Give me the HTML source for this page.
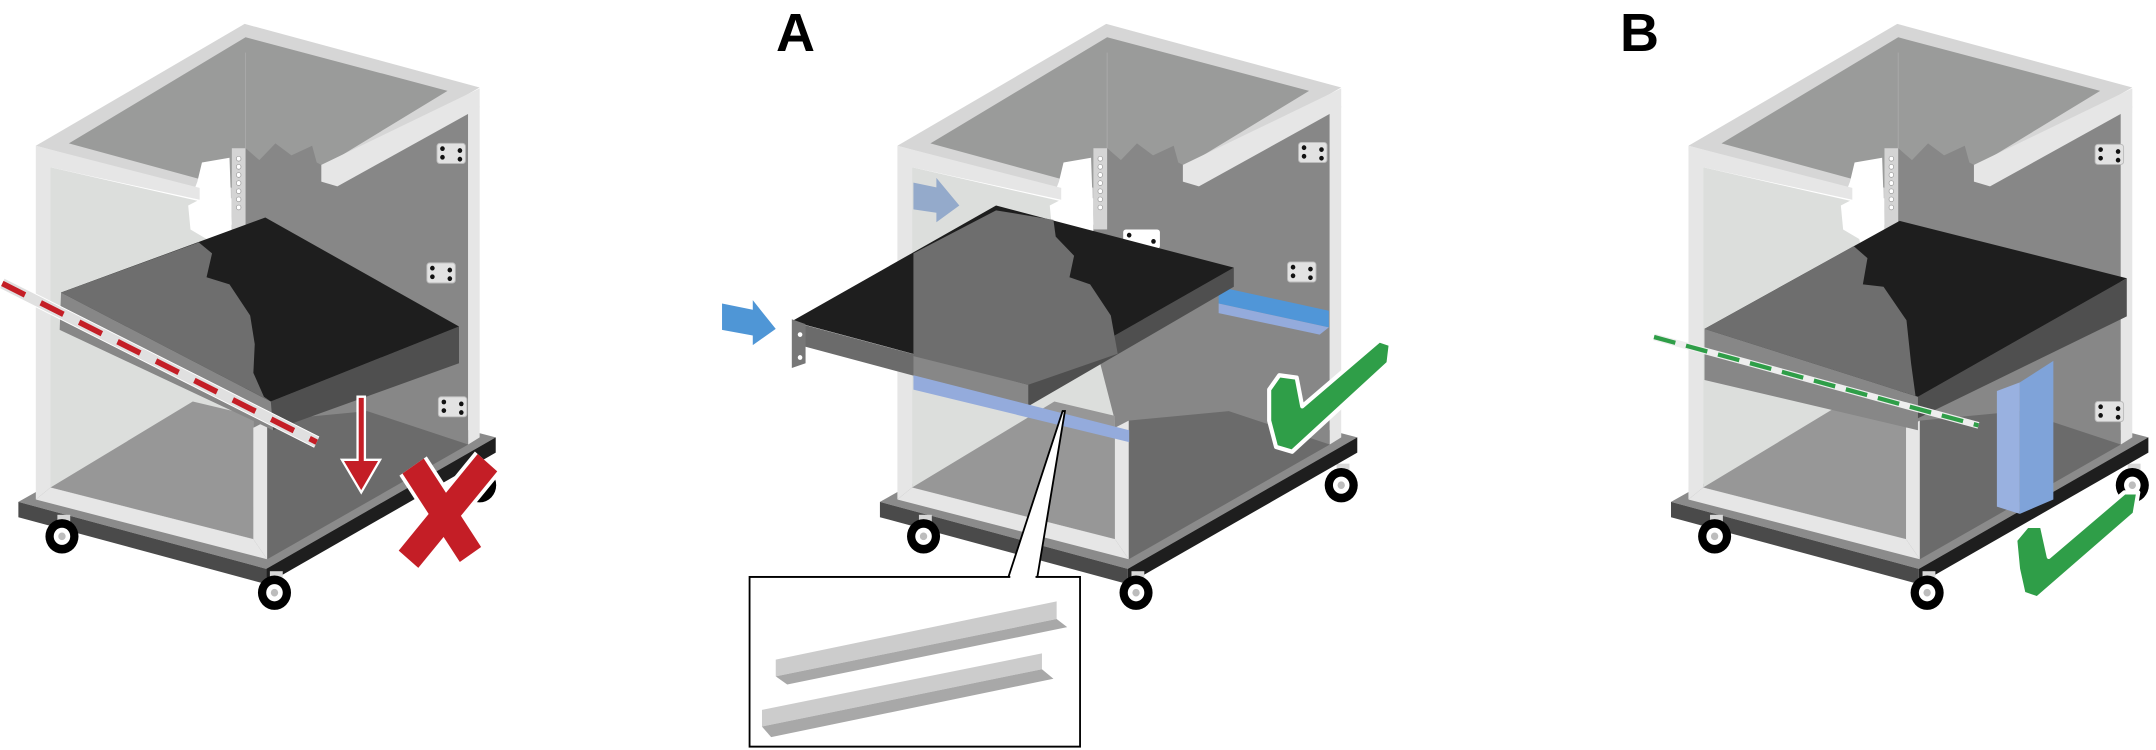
<!DOCTYPE html>
<html><head><meta charset="utf-8"><style>
html,body{margin:0;padding:0;background:#fff;}
svg{display:block;}
</style></head><body>
<svg width="2156" height="750" viewBox="0 0 2156 750" xmlns="http://www.w3.org/2000/svg">
<defs>
<g id="plate">
<rect x="0" y="0" width="62" height="42" rx="6" fill="#e2e2e2" stroke="#bbb" stroke-width="2"/>
<circle cx="12" cy="11" r="5" fill="#111"/><circle cx="50" cy="15" r="5" fill="#111"/>
<circle cx="12" cy="29" r="5" fill="#111"/><circle cx="50" cy="33" r="5" fill="#111"/>
</g>
<g id="wheel">
<rect x="-10" y="-45" width="28" height="30" fill="#d8d8d8"/>
<circle cx="0" cy="0" r="36" fill="#000"/>
<circle cx="0" cy="0" r="18" fill="#fff"/>
<circle cx="0" cy="0" r="8" fill="#bdbdbd"/>
</g>
<g id="cab">
<use href="#wheel" x="1045" y="1015"/>
<polygon points="40,1050 540,780 1080,915 580,1190" fill="#8b8b8b"/>
<polygon points="40,1050 580,1190 580,1222 40,1082" fill="#4a4a4a"/>
<polygon points="580,1190 1080,915 1080,947 580,1222" fill="#1e1e1e"/>
<use href="#wheel" x="135" y="1122"/>
<use href="#wheel" x="598" y="1240"/>
<polygon points="78,305 533,50 1045,183 582,435" fill="#d6d6d6"/>
<polygon points="150,300 535,78 975,190 590,415" fill="#9a9b9a"/>
<line x1="535" y1="110" x2="535" y2="320" stroke="#aaa" stroke-width="2"/>
<polygon points="505,310 535,310 565,335 600,300 635,325 680,305 690,340 700,345 1020,235 1020,930 582,1170 505,900" fill="#878787"/>
<polygon points="582,880 800,860 1020,930 582,1170" fill="#6b6b6b"/>
<polygon points="700,345 1045,185 1045,225 735,390 700,380" fill="#e6e6e6"/>
<polygon points="1020,235 1045,222 1045,915 1020,930" fill="#e6e6e6"/>
<rect x="505" y="310" width="30" height="170" fill="#d4d4d4"/>
<g fill="#fff" stroke="#999" stroke-width="1.5">
<circle cx="520" cy="332" r="5"/><circle cx="520" cy="349" r="5"/><circle cx="520" cy="366" r="5"/><circle cx="520" cy="383" r="5"/><circle cx="520" cy="400" r="5"/><circle cx="520" cy="417" r="5"/><circle cx="520" cy="434" r="5"/>
</g>
<polygon points="415,480 410,430 430,380 440,340 500,330 505,470 450,500" fill="#fff"/>
<polygon points="110,350 430,420 410,430 415,480 450,500 552,880 552,1128 110,1020" fill="#dcdedc"/>
<polygon points="110,1020 420,840 552,870 552,1128" fill="#979797"/>
<polygon points="78,305 110,315 110,1020 78,1045" fill="#e6e6e6"/>
<polygon points="78,1045 110,1020 552,1128 582,1170" fill="#e6e6e6"/>
<polygon points="78,305 435,393 435,418 110,350" fill="#e6e6e6"/>
<polygon points="552,895 582,880 582,1170 552,1128" fill="#e6e6e6"/>
</g>
</defs>

<g transform="scale(0.459,0.478)">
<use href="#cab"/>
<use href="#plate" x="952" y="300"/>
<use href="#plate" x="930" y="550"/>
<use href="#plate" x="955" y="830"/>
<polygon points="133,612 590,840 595,900 130,690" fill="#878787"/>
<polygon points="590,840 1000,683 1000,760 595,900" fill="#4f4f4f"/>
<polygon points="133,612 578,455 1000,683 590,840" fill="#1e1e1e"/>
<polygon points="133,612 433,507 462,530 450,580 500,595 545,660 555,720 552,780 575,830 590,840" fill="#6e6e6e"/>
<line x1="5" y1="593" x2="690" y2="925" stroke="#fff" stroke-width="26"/>
<line x1="5" y1="593" x2="690" y2="925" stroke="#e0e0e0" stroke-width="22"/>
<line x1="5" y1="593" x2="690" y2="925" stroke="#c41e26" stroke-width="12" stroke-dasharray="55,38"/>
<polygon points="779,830 795,830 795,962 828,962 787,1030 745,962 779,962" fill="#c41e26" stroke="#fff" stroke-width="5"/>
<g stroke-linecap="butt">
<line x1="900" y1="975" x2="1025" y2="1160" stroke="#fff" stroke-width="72"/>
<line x1="1062" y1="968" x2="890" y2="1170" stroke="#fff" stroke-width="72"/>
<line x1="900" y1="975" x2="1025" y2="1160" stroke="#c41e26" stroke-width="56"/>
<line x1="1062" y1="968" x2="890" y2="1170" stroke="#c41e26" stroke-width="56"/>
</g>
</g>

<text x="776" y="51" font-family="Liberation Sans, sans-serif" font-size="54" font-weight="bold" fill="#000">A</text>
<g transform="translate(700,0) scale(0.459,0.478)">
<g transform="translate(352,0)"><use href="#cab"/></g>
<use href="#plate" x="1304" y="298"/>
<use href="#plate" x="1280" y="548"/>
<rect x="922" y="480" width="80" height="40" rx="6" fill="#fff"/>
<circle cx="935" cy="492" r="5" fill="#111"/><circle cx="988" cy="505" r="5" fill="#111"/>
<polygon points="1130,600 1370,650 1370,685 1130,635" fill="#5096d8"/>
<polygon points="1130,635 1370,685 1350,700 1130,655" fill="#94abdc"/>
<polygon points="228,680 715,805 715,850 228,725" fill="#6b6b6b"/>
<polygon points="465,740 715,805 715,850 465,790" fill="#878787"/>
<polygon points="715,805 1163,560 1163,600 715,850" fill="#4f4f4f"/>
<polygon points="200,672 645,430 1163,560 715,805" fill="#1e1e1e"/>
<polygon points="465,530 645,440 770,460 775,495 815,535 805,580 850,595 895,660 910,740 715,805 465,745" fill="#6e6e6e"/>
<polygon points="200,668 230,678 230,760 200,770" fill="#777"/>
<circle cx="218" cy="700" r="5" fill="#fff"/><circle cx="218" cy="748" r="5" fill="#fff"/>
<polygon points="465,785 935,900 935,925 465,815" fill="#94abdc"/>
<polygon points="48,635 115,648 115,628 165,688 115,722 115,702 48,690" fill="#4f96d6"/>
<polygon points="465,382 515,392 515,372 565,430 515,465 515,445 465,438" fill="#94aacb"/>
<polygon points="1240,815 1262,785 1300,790 1312,850 1480,712 1505,720 1500,760 1290,945 1255,935 1240,880" fill="#2f9e48" stroke="#fff" stroke-width="9" stroke-linejoin="round"/>
<polygon points="672,1207 790,860 795,860 735,1207" fill="#fff" stroke="#000" stroke-width="4"/>
<rect x="108" y="1207" width="720" height="355" fill="#fff" stroke="#000" stroke-width="4"/>
<line x1="676" y1="1207" x2="731" y2="1207" stroke="#fff" stroke-width="6"/>
<polygon points="165,1380 777,1258 777,1295 165,1415" fill="#cccccc"/>
<polygon points="165,1415 777,1295 800,1312 190,1432" fill="#a8a8a8"/>
<polygon points="135,1485 745,1367 745,1400 135,1520" fill="#cccccc"/>
<polygon points="135,1520 745,1400 770,1420 155,1542" fill="#a8a8a8"/>
</g>

<text x="1620" y="51" font-family="Liberation Sans, sans-serif" font-size="54" font-weight="bold" fill="#000">B</text>
<g transform="translate(1436,0) scale(0.459,0.478)">
<g transform="translate(472,0)"><use href="#cab"/></g>
<use href="#plate" x="1436" y="302"/>
<use href="#plate" x="1436" y="840"/>
<polygon points="1222,818 1272,800 1272,1075 1222,1060" fill="#99b1e0"/>
<polygon points="1272,800 1345,755 1345,1045 1272,1075" fill="#7fa3d9"/>
<polygon points="585,688 1050,830 1050,900 585,795" fill="#878787"/>
<polygon points="1050,830 1505,582 1505,662 1050,875" fill="#4f4f4f"/>
<polygon points="585,688 1010,462 1505,582 1050,830" fill="#1e1e1e"/>
<polygon points="585,688 910,515 940,540 930,595 975,600 1025,670 1035,760 1045,830 1050,830" fill="#6e6e6e"/>
<line x1="475" y1="705" x2="1182" y2="890" stroke="#eee" stroke-width="14"/>
<line x1="475" y1="705" x2="1182" y2="890" stroke="#2f9e48" stroke-width="9" stroke-dasharray="48,24"/>
<polygon points="1262,1130 1288,1100 1320,1100 1335,1165 1500,1030 1530,1030 1522,1075 1310,1252 1280,1242 1268,1190" fill="#2f9e48" stroke="#fff" stroke-width="9" stroke-linejoin="round"/>
</g>
</svg>
</body></html>
